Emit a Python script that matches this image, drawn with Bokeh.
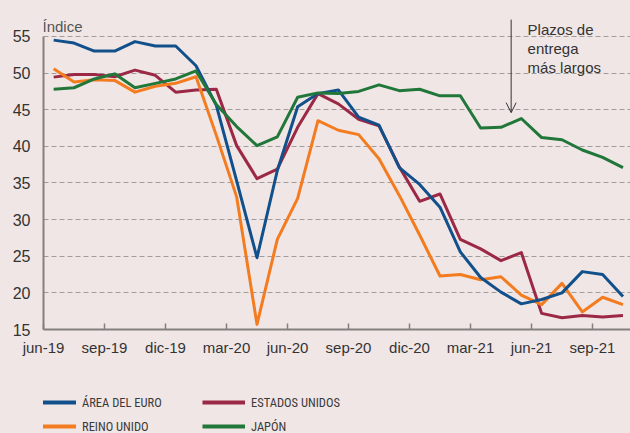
from bokeh.plotting import figure
from bokeh.layouts import column
from bokeh.models import Range1d, FixedTicker, Legend, LegendItem, Label, Arrow, OpenHead
from bokeh.embed import file_html
from bokeh.resources import INLINE

# Monthly data, jun-19 .. oct-21
months = ["jun-19", "jul-19", "ago-19", "sep-19", "oct-19", "nov-19", "dic-19",
          "ene-20", "feb-20", "mar-20", "abr-20", "may-20", "jun-20", "jul-20",
          "ago-20", "sep-20", "oct-20", "nov-20", "dic-20", "ene-21", "feb-21",
          "mar-21", "abr-21", "may-21", "jun-21", "jul-21", "ago-21", "sep-21", "oct-21"]
tick_labels = ["jun-19", "sep-19", "dic-19", "mar-20", "jun-20", "sep-20",
               "dic-20", "mar-21", "jun-21", "sep-21"]

area_euro = [54.5, 54.1, 53.0, 53.0, 54.3, 53.7, 53.7, 51.0, 45.6, 35.3,
             24.8, 36.7, 45.4, 47.2, 47.7, 44.0, 42.9, 37.1, 34.8, 31.7,
             25.6, 22.1, 20.1, 18.5, 19.1, 20.0, 22.9, 22.5, 19.5]
estados_unidos = [49.45, 49.8, 49.8, 49.5, 50.4, 49.7, 47.4, 47.7, 47.8, 40.1,
                  35.6, 36.9, 42.6, 47.2, 45.8, 43.7, 42.8, 37.2, 32.5, 33.5,
                  27.3, 26.0, 24.4, 25.5, 17.2, 16.6, 16.9, 16.7, 16.9]
reino_unido = [50.6, 48.8, 49.1, 49.0, 47.4, 48.2, 48.6, 49.5, 41.5, 33.1,
               15.7, 27.3, 32.9, 43.5, 42.2, 41.6, 38.3, 33.3, 27.9, 22.3,
               22.5, 21.8, 22.2, 19.7, 18.4, 21.3, 17.4, 19.4, 18.4]
japon = [47.8, 48.0, 49.2, 49.9, 48.0, 48.6, 49.2, 50.3, 45.7, 42.7,
         40.1, 41.3, 46.7, 47.3, 47.2, 47.5, 48.4, 47.6, 47.8, 46.9,
         46.9, 42.5, 42.6, 43.8, 41.2, 40.9, 39.5, 38.5, 37.1]

series_names = ["ÁREA DEL EURO", "REINO UNIDO", "ESTADOS UNIDOS", "JAPÓN"]
colors = {"ÁREA DEL EURO": "#12508c", "REINO UNIDO": "#f47c20",
          "ESTADOS UNIDOS": "#9b2844", "JAPÓN": "#21773a"}

x = [i + 0.5 for i in range(len(months))]
tick_pos = [months.index(t) for t in tick_labels]
data = {"ÁREA DEL EURO": area_euro, "REINO UNIDO": reino_unido,
        "ESTADOS UNIDOS": estados_unidos, "JAPÓN": japon}

BG = "#f0e6e5"
FONT = "'Liberation Sans', Arial, sans-serif"
NARROW = "'Liberation Sans Narrow', 'Roboto Condensed', 'Liberation Sans', sans-serif"

p = figure(width=630, height=365, output_backend="svg", toolbar_location=None,
           x_range=Range1d(0, 28.87), y_range=Range1d(15, 59.91),
           min_border_left=43, min_border_right=0, min_border_top=0,
           min_border_bottom=36)
p.background_fill_color = BG
p.border_fill_color = BG
p.outline_line_color = None

p.xgrid.visible = False
p.ygrid.ticker = FixedTicker(ticks=[15, 20, 25, 30, 35, 40, 45, 50, 55])
p.ygrid.grid_line_color = "#a19c9c"
p.ygrid.grid_line_dash = "5 3"
p.ygrid.grid_line_width = 1.2

p.yaxis.ticker = FixedTicker(ticks=[15, 20, 25, 30, 35, 40, 45, 50, 55])
p.yaxis.bounds = (15, 55)
p.yaxis.major_tick_out = 0
p.yaxis.major_tick_in = 0
p.yaxis.minor_tick_line_color = None
p.yaxis.axis_line_color = "#858080"
p.yaxis.axis_line_width = 2
p.yaxis.major_label_standoff = 13
p.yaxis.major_label_text_font = FONT
p.yaxis.major_label_text_font_size = "16px"
p.yaxis.major_label_text_color = "#333333"

p.xaxis.ticker = FixedTicker(ticks=tick_pos)
p.xaxis.major_label_overrides = {pos: lab for pos, lab in zip(tick_pos, tick_labels)}
p.xaxis.major_tick_out = 0
p.xaxis.major_tick_in = 6
p.xaxis.major_tick_line_color = "#858080"
p.xaxis.major_tick_line_width = 1.5
p.xaxis.minor_tick_line_color = None
p.xaxis.axis_line_color = "#858080"
p.xaxis.axis_line_width = 2
p.xaxis.major_label_standoff = 9
p.xaxis.major_label_text_font = FONT
p.xaxis.major_label_text_font_size = "15px"
p.xaxis.major_label_text_color = "#333333"

for name in ["ESTADOS UNIDOS", "REINO UNIDO", "ÁREA DEL EURO", "JAPÓN"]:
    p.line(x, data[name], line_color=colors[name], line_width=3, line_join="round")

p.add_layout(Label(x=-0.05, y=56.37, text="Índice", text_font=FONT,
                   text_font_size="15px", text_color="#555555",
                   text_baseline="alphabetic"))

p.add_layout(Arrow(x_start=23.0, y_start=57.3, x_end=23.0, y_end=44.6,
                   line_color="#333333", line_width=1,
                   end=OpenHead(size=10, line_color="#333333", line_width=1)))
for txt, yy in [("Plazos de", 55.96), ("entrega", 53.36), ("más largos", 50.77)]:
    p.add_layout(Label(x=23.81, y=yy, text=txt, text_font=FONT,
                       text_font_size="15px", text_color="#333333",
                       text_baseline="alphabetic"))

# Legend strip below the chart (series drawn off-range, only used for swatches)
lg = figure(width=630, height=68, output_backend="svg", toolbar_location=None,
            x_range=Range1d(0, 28.87), y_range=Range1d(100, 101),
            x_axis_type=None, y_axis_type=None,
            min_border_left=0, min_border_right=0, min_border_top=0, min_border_bottom=0)
lg.background_fill_color = BG
lg.border_fill_color = BG
lg.outline_line_color = None
lg.grid.visible = False
sw = {}
for name in series_names:
    sw[name] = lg.line(x, data[name], line_color=colors[name], line_width=4)

legend = Legend(items=[LegendItem(label=n, renderers=[sw[n]]) for n in series_names],
                orientation="vertical", nrows=2, location=(-10, -2),
                padding=0, margin=0, spacing=6, glyph_width=43, glyph_height=18,
                label_height=18, label_width=114, label_standoff=6,
                border_line_color=None, background_fill_alpha=0,
                label_text_font=NARROW, label_text_font_size="12.5px",
                label_text_color="#3a3a3a")
lg.add_layout(legend)

layout = column(p, lg, spacing=0, styles={"background-color": BG})
open("out.html", "w").write(file_html(layout, INLINE))
